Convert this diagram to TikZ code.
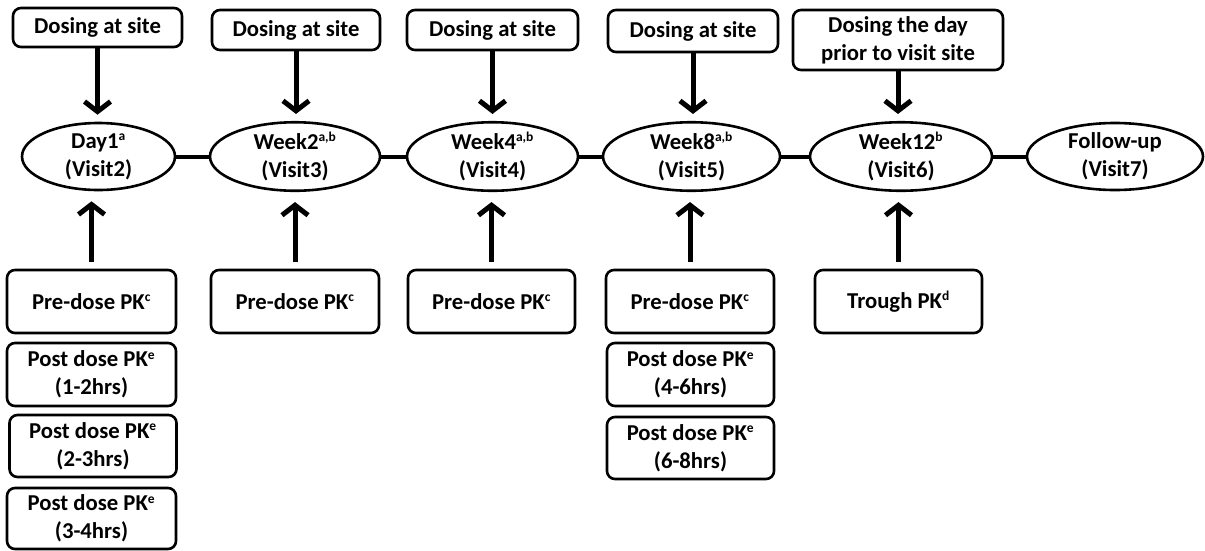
\documentclass[tikz,border=0pt]{standalone}
\usepackage{fontspec}
\setmainfont{Carlito}
\usetikzlibrary{shapes.geometric,arrows.meta,calc}
\newcommand{\sps}[1]{\textsuperscript{\fontsize{13.5}{13.5}\selectfont #1}}
\begin{document}
\begin{tikzpicture}[x=1pt,y=-1pt,
  txt/.style={font=\bfseries\fontsize{22.7}{28}\selectfont,align=center,inner sep=0pt},
  box/.style={txt,draw,line width=2.6pt,rounded corners=8pt},
  oval/.style={txt,draw,ellipse,line width=2.6pt,minimum height=67pt},
  arr/.style={line width=5pt,-{Straight Barb[length=10pt,width=26pt]}},
  link/.style={line width=4pt}]
\useasboundingbox (0,0) rectangle (1205,550);
% top boxes
\node[box,minimum width=169pt,minimum height=39pt] (t1) at (97.5,27.5) {Dosing at site};
\node[box,minimum width=168pt,minimum height=40pt] (t2) at (296,30) {Dosing at site};
\node[box,minimum width=171pt,minimum height=40pt] (t3) at (492.5,30) {Dosing at site};
\node[box,minimum width=170pt,minimum height=42pt] (t4) at (693,31) {Dosing at site};
\node[box,minimum width=210pt,minimum height=60pt] (t5) at (898,40) {Dosing the day\\prior to visit site};
% ellipses
\node[oval,minimum width=153pt] (e1) at (98.5,156.5) {Day1\sps{a}\\(Visit2)};
\node[oval,minimum width=170pt] (e2) at (295,156.5) {Week2\sps{a,b}\\(Visit3)};
\node[oval,minimum width=171pt] (e3) at (492.5,156.5) {Week4\sps{a,b}\\(Visit4)};
\node[oval,minimum width=177pt] (e4) at (691.5,156.5) {Week8\sps{a,b}\\(Visit5)};
\node[oval,minimum width=182pt] (e5) at (901,156.5) {Week12\sps{b}\\(Visit6)};
\node[oval,minimum width=176pt] (e6) at (1115,156.5) {Follow-up\\(Visit7)};
% bottom boxes
\node[box,minimum width=169pt,minimum height=63pt] (b1) at (91.5,301.5) {Pre-dose PK\sps{c}};
\node[box,minimum width=169pt,minimum height=63pt] (b1a) at (91.5,374.5) {Post dose PK\sps{e}\\(1-2hrs)};
\node[box,minimum width=167pt,minimum height=62pt] (b1b) at (93,446) {Post dose PK\sps{e}\\(2-3hrs)};
\node[box,minimum width=169pt,minimum height=61pt] (b1c) at (91.5,518.5) {Post dose PK\sps{e}\\(3-4hrs)};
\node[box,minimum width=168pt,minimum height=63pt] (b2) at (295,301.5) {Pre-dose PK\sps{c}};
\node[box,minimum width=167pt,minimum height=63pt] (b3) at (491.5,301.5) {Pre-dose PK\sps{c}};
\node[box,minimum width=168pt,minimum height=63pt] (b4) at (690,301.5) {Pre-dose PK\sps{c}};
\node[box,minimum width=167pt,minimum height=63pt] (b4a) at (690.5,374.5) {Post dose PK\sps{e}\\(4-6hrs)};
\node[box,minimum width=167pt,minimum height=62pt] (b4b) at (690.5,448) {Post dose PK\sps{e}\\(6-8hrs)};
\node[box,minimum width=167pt,minimum height=63pt] (b5) at (898.5,301.5) {Trough PK\sps{d}};
% timeline links
\draw[link] (e1) -- (e2);
\draw[link] (e2) -- (e3);
\draw[link] (e3) -- (e4);
\draw[link] (e4) -- (e5);
\draw[link] (e5) -- (e6);
% dosing arrows
\foreach \t/\e in {t1/e1,t2/e2,t3/e3,t4/e4,t5/e5}
  \draw[arr,shorten >=7pt] (\t.south) -- (\t.south |- \e.north);
% PK arrows
\foreach \b/\e in {b1/e1,b2/e2,b3/e3,b4/e4,b5/e5}
  \draw[arr,shorten <=7pt,shorten >=10pt] (\b.north) -- (\b.north |- \e.south);
\end{tikzpicture}
\end{document}
